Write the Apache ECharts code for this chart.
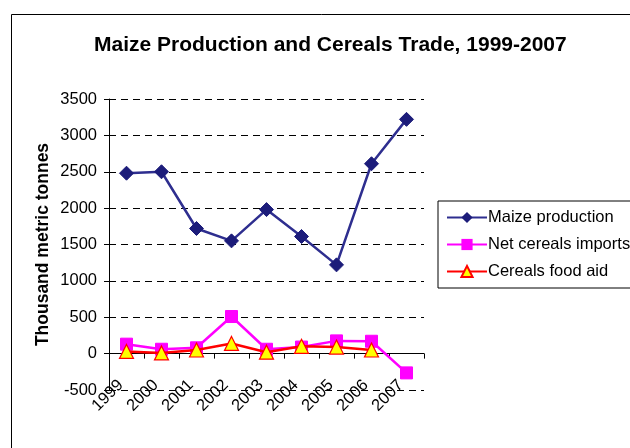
<!DOCTYPE html>
<html><head><meta charset="utf-8">
<script src="https://cdn.jsdelivr.net/npm/echarts@6/dist/echarts.min.js"></script>
<style>html,body{margin:0;padding:0;background:#fff}#c{width:630px;height:448px}</style>
</head><body><div id="c"></div>
<script>
const years = ['1999','2000','2001','2002','2003','2004','2005','2006','2007'];
const maizeProduction = [2480, 2500, 1720, 1550, 1980, 1610, 1220, 2610, 3220];
const netCerealsImports = [130, 60, 80, 510, 60, 90, 175, 170, -265];
const cerealsFoodAid = [30, 10, 50, 140, 20, 100, 90, 50, null];
const yTicks = {min: -500, max: 3500, interval: 500};

const chart = echarts.init(document.getElementById('c'), null, {renderer: 'canvas'});
const font = 'Liberation Sans, Arial, sans-serif';
chart.setOption({
  animation: false,
  backgroundColor: '#fff',
  textStyle: {fontFamily: font},
  graphic: [{type: 'rect', shape: {x: 11.5, y: 14.5, width: 700, height: 500}, style: {fill: 'none', stroke: '#000', lineWidth: 1}, silent: true}],
  title: {text: 'Maize Production and Cereals Trade, 1999-2007', left: 89, top: 30,
    textStyle: {fontFamily: font, fontSize: 21, fontWeight: 'bold', color: '#000'}},
  grid: {left: 109, right: 206, top: 99, bottom: 58, containLabel: false, outerBoundsMode: 'none'},
  legend: {
    orient: 'vertical', left: 438, top: 201, itemGap: 10, itemWidth: 40, itemHeight: 14,
    borderColor: '#000', borderWidth: 1, padding: [8, 40, 8, 8], borderRadius: 0,
    textStyle: {fontFamily: font, fontSize: 16.5, color: '#000', padding: [0, 0, 0, -4]},
    data: ['Maize production', 'Net cereals imports', 'Cereals food aid']
  },
  xAxis: {
    type: 'category', data: years, boundaryGap: true,
    name: 'Year', nameLocation: 'middle', nameGap: 62,
    nameTextStyle: {fontFamily: font, fontSize: 18, fontWeight: 'bold', color: '#000'},
    axisLine: {onZero: true, lineStyle: {color: '#000', width: 1}},
    axisTick: {show: true, alignWithLabel: false, length: 5, lineStyle: {color: '#000'}},
    axisLabel: {rotate: 45, fontFamily: font, fontSize: 16.5, color: '#000', interval: 0, margin: -13, padding: [0, 8, 0, 0]},
    splitLine: {show: false}
  },
  yAxis: {
    type: 'value', min: yTicks.min, max: yTicks.max, interval: yTicks.interval,
    name: 'Thousand metric tonnes', nameLocation: 'middle', nameGap: 57,
    nameTextStyle: {fontFamily: font, fontSize: 17.5, fontWeight: 'bold', color: '#000'},
    axisLine: {show: true, lineStyle: {color: '#000', width: 1}},
    axisTick: {show: true, length: 5, lineStyle: {color: '#000'}},
    axisLabel: {fontFamily: font, fontSize: 16.5, color: '#000', margin: 12, formatter: v => String(v)},
    splitLine: {show: true, lineStyle: {type: [7, 5], color: '#000', width: 1}}
  },
  series: [
    {name: 'Maize production', type: 'line', data: maizeProduction, symbol: 'diamond', symbolSize: 14,
      lineStyle: {color: '#2E2E8F', width: 2.5}, itemStyle: {color: '#1C1C7A', borderColor: '#1C1C7A'}, z: 3},
    {name: 'Net cereals imports', type: 'line', data: netCerealsImports, symbol: 'rect', symbolSize: 12,
      lineStyle: {color: '#FF00FF', width: 2.5}, itemStyle: {color: '#FF00FF', borderColor: '#FF00FF'}, z: 4},
    {name: 'Cereals food aid', type: 'line', data: cerealsFoodAid, symbol: 'triangle', symbolSize: 14,
      lineStyle: {color: '#FF0000', width: 2.5}, itemStyle: {color: '#FFFF00', borderColor: '#FF0000', borderWidth: 1.2}, z: 5}
  ]
});
</script></body></html>
